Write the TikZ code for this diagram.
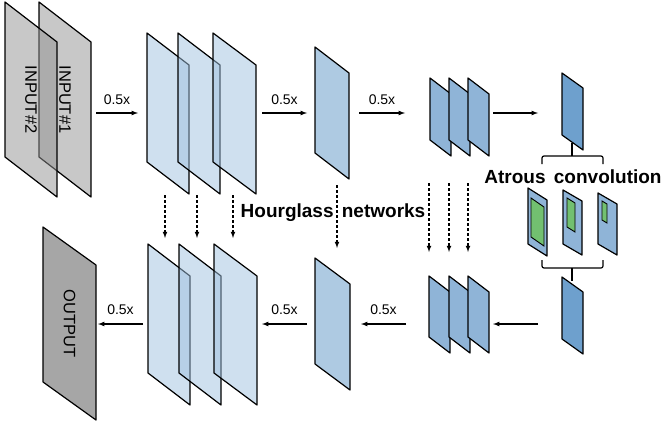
\documentclass[tikz,border=0pt]{standalone}
\usepackage{fontspec}
\setmainfont{Liberation Sans}
\usetikzlibrary{calc, positioning}

\definecolor{ingrey}{RGB}{145,145,145}
\definecolor{outgrey}{RGB}{166,166,166}
\definecolor{blueA}{RGB}{159,193,223}
\definecolor{blueB}{RGB}{174,202,226}
\definecolor{blueC}{RGB}{143,180,215}
\definecolor{blueD}{RGB}{110,160,205}
\definecolor{kerngreen}{RGB}{114,192,112}

% feature map: name, x, y (top left), width, height, drop, style
\newcommand{\fmap}[7]{%
    \draw[#7] (#2,#3) -- ++(#4,#6) -- ++(0,#5) -- ++(-#4,-#6) -- cycle;
    \coordinate (#1) at ({#2+#4/2},{#3+(#5+#6)/2});
}

\tikzset{
    plane/.style={draw=black, line width=1.2pt, line join=round},
    inplane/.style={plane, fill=ingrey, fill opacity=0.5},
    outplane/.style={plane, fill=outgrey},
    lvlone/.style={plane, fill=blueA, fill opacity=0.5},
    lvltwo/.style={plane, fill=blueB},
    lvlthree/.style={plane, fill=blueC},
    lvlfour/.style={plane, fill=blueD},
    kern/.style={draw=black, line width=0.9pt, fill=kerngreen},
    lbl/.style={font=\fontsize{14}{16}\selectfont, inner sep=0pt},
    mapname/.style={font=\fontsize{16.5}{18}\selectfont, inner sep=0pt, rotate=-90},
    title/.style={font=\fontsize{19}{21}\selectfont\bfseries, inner sep=0pt},
    flow/.style={->, line width=1.2pt},
    skip/.style={->, line width=1.1pt, dashed, dash pattern=on 3pt off 2pt},
}

\begin{document}
\begin{tikzpicture}[>=latex, x=1pt, y=-1pt]
    \useasboundingbox (0,0) rectangle (663,428);

    % 1. Inputs
    \fmap{in1}{39}{2}{52}{155}{40}{inplane}
    \fmap{in2}{5}{2}{52}{155}{40}{inplane}
    \node[mapname] (in1txt) at (in1) {INPUT\#1};
    \node[mapname] (in2txt) at (in2) {INPUT\#2};

    % 2. Encoder
    \fmap{ea}{147}{33}{42}{129}{32}{lvlone}
    \fmap{eb}{178}{33}{42}{129}{32}{lvlone}
    \fmap{ec}{213}{33}{43}{129}{32}{lvlone}
    \fmap{e2}{315}{47}{34}{106}{26}{lvltwo}
    \fmap{e3a}{430}{78}{21}{62}{16}{lvlthree}
    \fmap{e3b}{449}{78}{21}{62}{16}{lvlthree}
    \fmap{e3c}{468}{78}{21}{62}{16}{lvlthree}
    \fmap{e4}{562}{73}{21}{62}{15}{lvlfour}

    % 3. Atrous convolution
    \fmap{ka}{528}{188}{19}{56}{12}{lvlthree}
    \fmap{kb}{563}{190}{19}{54}{11}{lvlthree}
    \fmap{kc}{598}{193}{19}{51}{11}{lvlthree}
    \fmap{kag}{531}{198}{13}{39}{9}{kern}
    \fmap{kbg}{567}{198}{8}{29}{5}{kern}
    \fmap{kcg}{602}{201}{5}{19}{3}{kern}
    \draw[line width=1.2pt, rounded corners=2pt] (542,164) -- (542,156) -- (603,156) -- (603,164);
    \draw[line width=1.2pt] (572,156) -- (572,143);
    \draw[line width=1.2pt, rounded corners=2pt] (542,260) -- (542,268) -- (603,268) -- (603,260);
    \draw[line width=1.2pt] (572,268) -- (572,281);
    \node[title] (atrous) at (573,177) {Atrous\hspace{3pt} convolution};

    % 4. Decoder
    \fmap{out}{43}{227}{53}{155}{38}{outplane}
    \node[mapname] (outtxt) at (out) {OUTPUT};
    \fmap{da}{148}{244}{42}{129}{32}{lvlone}
    \fmap{db}{179}{244}{42}{129}{32}{lvlone}
    \fmap{dc}{214}{244}{43}{129}{32}{lvlone}
    \fmap{d2}{315}{258}{35}{106}{26}{lvltwo}
    \fmap{d3a}{429}{276}{21}{61}{16}{lvlthree}
    \fmap{d3b}{449}{276}{21}{61}{16}{lvlthree}
    \fmap{d3c}{468}{276}{21}{61}{16}{lvlthree}
    \fmap{d4}{562}{277}{21}{62}{15}{lvlfour}

    % 5. Arrows
    \coordinate (t1s) at (96,113);  \coordinate (t1e) at (138,113);
    \coordinate (t2s) at (262,113); \coordinate (t2e) at (307,113);
    \coordinate (t3s) at (359,113); \coordinate (t3e) at (405,113);
    \coordinate (t4s) at (493,113); \coordinate (t4e) at (538,113);
    \coordinate (b4s) at (538,324); \coordinate (b4e) at (493,324);
    \coordinate (b3s) at (406,324); \coordinate (b3e) at (361,324);
    \coordinate (b2s) at (307,324); \coordinate (b2e) at (262,324);
    \coordinate (b1s) at (143,324); \coordinate (b1e) at (98,324);
    \draw[flow] (t1s) -- node[lbl, yshift=13pt] (lt1) {0.5x} (t1e);
    \draw[flow] (t2s) -- node[lbl, yshift=13pt] (lt2) {0.5x} (t2e);
    \draw[flow] (t3s) -- node[lbl, yshift=13pt] (lt3) {0.5x} (t3e);
    \draw[flow] (t4s) -- (t4e);
    \draw[flow] (b4s) -- (b4e);
    \draw[flow] (b3s) -- node[lbl, yshift=14pt] (lb3) {0.5x} (b3e);
    \draw[flow] (b2s) -- node[lbl, yshift=14pt] (lb2) {0.5x} (b2e);
    \draw[flow] (b1s) -- node[lbl, yshift=14pt] (lb1) {0.5x} (b1e);

    % 6. Skip connections
    \node[title] (hg) at (333,213) {Hourglass\hspace{3pt} networks};
    \foreach \x [count=\i] in {165,197,233} {
        \coordinate (sa\i) at (\x,195); \coordinate (ea\i) at (\x,238);
        \draw[skip] (sa\i) -- (ea\i);
    }
    \coordinate (sb) at (337,185); \coordinate (eb) at (337,248);
    \draw[skip] (sb) -- (eb);
    \foreach \x [count=\i] in {429,449,468} {
        \coordinate (sc\i) at (\x,183); \coordinate (ec\i) at (\x,252);
        \draw[skip] (sc\i) -- (ec\i);
    }
\end{tikzpicture}
\end{document}
